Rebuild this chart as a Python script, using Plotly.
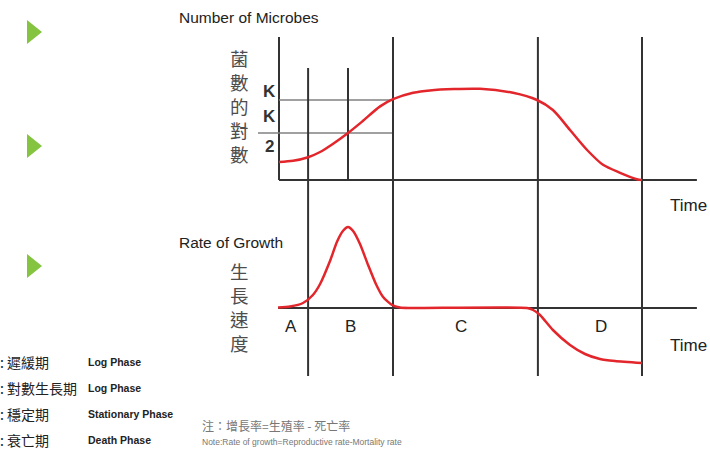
import plotly.graph_objects as go

W, H = 710, 451

# ---------------- data ----------------
# phase boundaries on the time axis (arbitrary time units)
lag_end_t = 0.97
inflection_t = 2.3
log_end_t = 3.8
stationary_end_t = 8.63
death_end_t = 12.1
time_axis_end = 13.93

# log number of microbes (top panel)
t_top = [0, 0.47, 0.97, 1.37, 1.83, 2.3, 2.77, 3.37, 3.8, 4.47, 5.03, 6.7,
         7.8, 8.6, 9.13, 9.7, 10.27, 10.8, 11.37, 11.93, 12.1]
n_top = [2.25, 2.4, 2.85, 3.5, 4.6, 5.875, 7.3, 9.2, 10.1, 10.9, 11.2, 11.4,
         10.9, 10.0, 8.75, 6.25, 3.75, 1.9, 0.9, 0.1, 0]
K_level = 10.0
K_half_level = 5.875
top_axis_max = 17.875
top_short_max = 14.0
lines_bottom = -24.5

# rate of growth (bottom panel)
t_rate = [-0.03, 0.37, 0.8, 1.13, 1.37, 1.7, 1.93, 2.13, 2.3, 2.47, 2.7, 2.97, 3.23,
          3.47, 3.77, 4.03, 4.37, 8.27, 8.47, 8.7, 9.13, 9.7, 10.2, 10.7, 11.2, 12.1]
r_rate = [0.5, 1.5, 5, 13, 24, 47, 66, 77, 81, 77, 64, 43, 24,
          11, 3, 0.5, 0, 0, -2, -7, -22, -37, -46, -51, -53, -55]

phase_labels = ["A", "B", "C", "D"]
phase_label_t = [0.4, 2.37, 6.07, 10.73]

top_ylabel = "菌<br>數<br>的<br>對<br>數"
bottom_ylabel = "生<br>長<br>速<br>度"

legend_zh = [": 遲緩期", ": 對數生長期", ": 穩定期", ": 衰亡期"]
legend_en = ["Log Phase", "Log Phase", "Stationary Phase", "Death Phase"]

# ---------------- figure ----------------
RED = "#e3262b"
DARK = "#333333"
GREY = "#808080"
EN = "Liberation Sans, Arial, sans-serif"
ZH = "Noto Sans CJK TC, Noto Sans CJK SC, sans-serif"

fig = go.Figure()
fig.add_trace(go.Scatter(x=t_top, y=n_top, mode="lines",
                         line=dict(color=RED, width=2.5, shape="spline", smoothing=0.8),
                         xaxis="x", yaxis="y", hoverinfo="skip"))
fig.add_trace(go.Scatter(x=t_rate, y=r_rate, mode="lines",
                         line=dict(color=RED, width=2.5, shape="spline", smoothing=0.6),
                         xaxis="x", yaxis="y2", hoverinfo="skip"))

shapes = []
def vline(t, y0, y1, yref="y", color=DARK, width=2):
    shapes.append(dict(type="line", xref="x", yref=yref, x0=t, x1=t, y0=y0, y1=y1,
                       line=dict(color=color, width=width), layer="below"))

def hline(y, x0, x1, yref="y", color=DARK, width=2):
    shapes.append(dict(type="line", xref="x", yref=yref, x0=x0, x1=x1, y0=y, y1=y,
                       line=dict(color=color, width=width), layer="below"))

# top panel axes
vline(0, 0, top_axis_max)
hline(0, 0, time_axis_end)
# K lines
hline(K_level, 0, log_end_t, color=GREY, width=1.6)
hline(K_half_level, -0.7, log_end_t, color=GREY, width=1.6)
# phase boundaries
vline(lag_end_t, lines_bottom, top_short_max)
vline(inflection_t, 0, top_short_max)
vline(log_end_t, lines_bottom, top_axis_max)
vline(stationary_end_t, lines_bottom, top_axis_max)
vline(death_end_t, lines_bottom, top_axis_max)
# bottom panel axis
hline(0, -0.03, time_axis_end, yref="y2")

# green triangles (decorative)
def px(x):
    return x / W

def py(y):
    return 1 - y / H

for cy in [32, 146, 266]:
    shapes.append(dict(type="path", xref="paper", yref="paper",
                       path=f"M {px(27)},{py(cy-12)} L {px(42)},{py(cy)} L {px(27)},{py(cy+12)} Z",
                       fillcolor="#84c440", line=dict(width=0)))

annotations = []
def txt(x, y, s, size, font=EN, color=DARK, anchor="left", bold=False):
    if bold:
        s = f"<b>{s}</b>"
    annotations.append(dict(x=px(x), y=py(y), xref="paper", yref="paper", text=s,
                            showarrow=False, xanchor=anchor, yanchor="middle",
                            font=dict(family=font, size=size, color=color)))

txt(177, 17, "Number of Microbes", 15.5, color="#222222")
txt(177, 242, "Rate of Growth", 15.5, color="#222222")
txt(668, 205, "Time", 17, color="#222222")
txt(668, 345, "Time", 17, color="#222222")

txt(239, 106, top_ylabel, 18.5, font=ZH, color="#4d4d4d", anchor="center")
txt(239, 307, bottom_ylabel, 18.5, font=ZH, color="#4d4d4d", anchor="center")

txt(269, 91, "K", 17, color="#333333", anchor="center", bold=True)
txt(269, 116, "K", 17, color="#333333", anchor="center", bold=True)
txt(269, 146, "2", 17, color="#333333", anchor="center", bold=True)

for lab, t in zip(phase_labels, phase_label_t):
    annotations.append(dict(x=t, y=-18, xref="x", yref="y2", text=lab, showarrow=False,
                            xanchor="center", yanchor="middle",
                            font=dict(family=EN, size=17, color="#222222")))

for i, (zh, en) in enumerate(zip(legend_zh, legend_en)):
    y = 362 + i * 26
    txt(-2, y, zh, 14, font=ZH, color="#222222")
    txt(86, y, en, 10.5, color="#222222", bold=True)

txt(200, 425, "注：增長率=生殖率 - 死亡率", 12, font=ZH, color="#777777")
txt(200, 442, "Note:Rate of growth=Reproductive rate-Mortality rate", 8.5, color="#777777")

xr = [-279 / 30, (W - 279) / 30]
fig.update_layout(
    width=W, height=H,
    margin=dict(l=0, r=0, t=0, b=0),
    paper_bgcolor="white", plot_bgcolor="white",
    showlegend=False,
    xaxis=dict(range=xr, visible=False, domain=[0, 1]),
    yaxis=dict(range=[(180 - H) / 8, 180 / 8], visible=False, domain=[0, 1]),
    yaxis2=dict(range=[308 - H, 308], visible=False, overlaying="y"),
    shapes=shapes,
    annotations=annotations,
)

fig.write_html("out.html", config={"displayModeBar": False},
               post_script="document.body.style.margin='0px';")
